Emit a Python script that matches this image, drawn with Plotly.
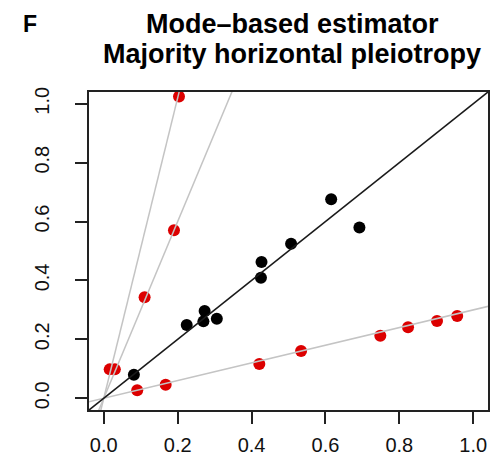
import plotly.graph_objects as go

# Valid instruments (black)
valid_x = [0.0815, 0.2245, 0.273, 0.2697, 0.306, 0.427, 0.4254, 0.507, 0.6155, 0.692]
valid_y = [0.080, 0.2485, 0.296, 0.261, 0.270, 0.463, 0.409, 0.525, 0.6756, 0.580]

# Pleiotropic instruments (red)
invalid_x = [0.016, 0.030, 0.0905, 0.1675, 0.421, 0.534, 0.7485, 0.8236, 0.902, 0.9566, 0.1105, 0.190, 0.2036]
invalid_y = [0.098, 0.098, 0.027, 0.046, 0.116, 0.160, 0.212, 0.2407, 0.262, 0.279, 0.343, 0.5705, 1.025]

# Ratio lines through the origin
true_slope = 1.0
invalid_slopes = [5.1, 3.0, 0.30]

tick_vals = [0, 0.2, 0.4, 0.6, 0.8, 1.0]
tick_text = ["0.0", "0.2", "0.4", "0.6", "0.8", "1.0"]

title_lines = ["Mode–based estimator", "Majority horizontal pleiotropy"]
panel_label = "F"

FONT = "Liberation Sans, Arial, Helvetica, sans-serif"

fig = go.Figure()

fig.add_trace(go.Scatter(x=valid_x, y=valid_y, mode="markers",
                         marker=dict(color="black", size=12, line=dict(width=0)),
                         showlegend=False, cliponaxis=True))
fig.add_trace(go.Scatter(x=invalid_x, y=invalid_y, mode="markers",
                         marker=dict(color="#DC0000", size=12, line=dict(width=0)),
                         showlegend=False, cliponaxis=True))

line_x = [-0.1, 1.1]
for s in invalid_slopes:
    fig.add_trace(go.Scatter(x=line_x, y=[s * v for v in line_x], mode="lines",
                             line=dict(color="#C4C4C4", width=1.5),
                             showlegend=False, hoverinfo="skip"))
fig.add_trace(go.Scatter(x=line_x, y=[true_slope * v for v in line_x], mode="lines",
                         line=dict(color="#1a1a1a", width=1.6),
                         showlegend=False, hoverinfo="skip"))

axis_common = dict(
    range=[-0.04, 1.04], tickvals=tick_vals, ticktext=tick_text,
    ticks="outside", ticklen=12, tickwidth=1.5, tickcolor="#222",
    showline=True, mirror=True, linecolor="#222", linewidth=1.5,
    showgrid=False, zeroline=False, automargin=False,
    tickfont=dict(family=FONT, size=20, color="#111"),
)

fig.update_layout(
    width=499, height=465,
    margin=dict(l=89, r=11, t=92, b=55),
    paper_bgcolor="white", plot_bgcolor="white",
    xaxis=dict(**axis_common, ticklabelstandoff=4),
    yaxis=dict(**axis_common, tickangle=-90, ticklabelstandoff=18),
    annotations=[
        dict(text="<b>" + title_lines[0] + "</b>",
             xref="paper", yref="paper", x=0.509, y=1.214,
             xanchor="center", yanchor="middle", showarrow=False,
             font=dict(family=FONT, size=27, color="black")),
        dict(text="<b>" + title_lines[1] + "</b>",
             xref="paper", yref="paper", x=0.509, y=1.120,
             xanchor="center", yanchor="middle", showarrow=False,
             font=dict(family=FONT, size=27, color="black")),
        dict(text="<b>" + panel_label + "</b>",
             xref="paper", yref="paper", x=-0.148, y=1.214,
             xanchor="center", yanchor="middle", showarrow=False,
             font=dict(family=FONT, size=23, color="black")),
    ],
)

fig.write_html("out.html", config={"displayModeBar": False},
               post_script="document.body.style.margin='0';")
